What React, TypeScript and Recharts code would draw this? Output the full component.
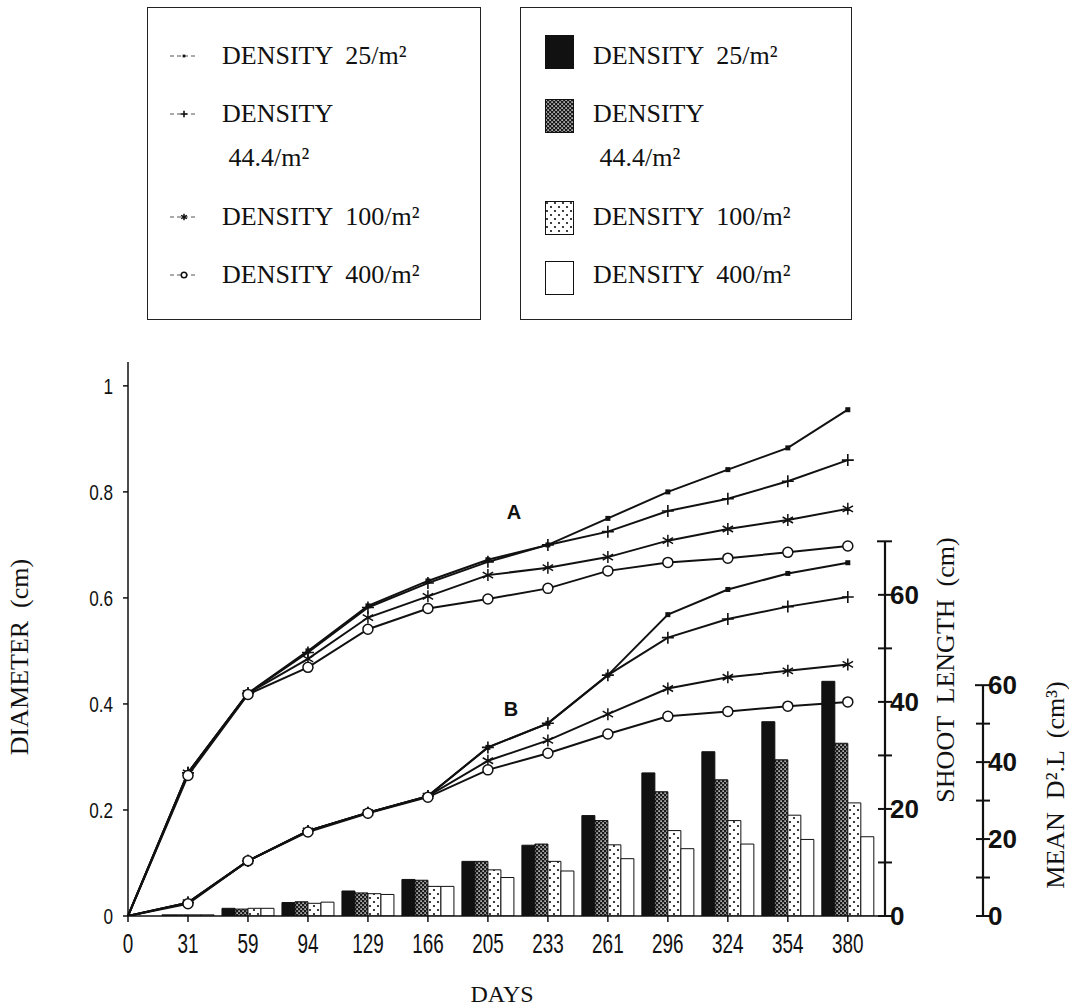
import React from 'react';
import { ComposedChart, Bar, Line, XAxis, YAxis } from 'recharts';

// categories (days) and densities
const days = ['0', '31', '59', '94', '129', '166', '205', '233', '261', '296', '324', '354', '380'];
const densities = ['25', '44.4', '100', '400'];

// A: diameter (cm)
const diam25 = [0, 0.27, 0.42, 0.5, 0.585, 0.632, 0.672, 0.7, 0.75, 0.8, 0.842, 0.883, 0.955];
const diam44 = [0, 0.27, 0.42, 0.497, 0.582, 0.628, 0.668, 0.7, 0.725, 0.764, 0.787, 0.82, 0.86];
const diam100 = [0, 0.27, 0.42, 0.485, 0.563, 0.603, 0.643, 0.657, 0.677, 0.708, 0.73, 0.747, 0.768];
const diam400 = [0, 0.265, 0.418, 0.469, 0.541, 0.58, 0.598, 0.618, 0.651, 0.667, 0.675, 0.686, 0.698];

// B: shoot length (cm)
const shoot25 = [0, 2.5, 10.3, 15.9, 19.3, 22.4, 31.5, 36, 45, 56.3, 61, 64, 66];
const shoot44 = [0, 2.5, 10.3, 15.9, 19.3, 22.4, 31.5, 36, 45, 52, 55.5, 57.8, 59.6];
const shoot100 = [0, 2.5, 10.3, 15.9, 19.3, 22.4, 29, 32.8, 37.7, 42.5, 44.6, 45.8, 47];
const shoot400 = [0, 2.3, 10.3, 15.7, 19.2, 22.2, 27.3, 30.4, 34, 37.3, 38.2, 39.2, 40];

// bars: mean D².L (cm³)
const dl25 = [0, 0.3, 2.0, 3.5, 6.5, 9.5, 14.2, 18.4, 26.1, 37.2, 42.7, 50.5, 61];
const dl44 = [0, 0.3, 1.8, 3.7, 6.0, 9.3, 14.2, 18.7, 24.8, 32.3, 35.4, 40.6, 44.9];
const dl100 = [0, 0.3, 2.0, 3.3, 5.8, 7.7, 12.0, 14.2, 18.5, 22.2, 24.8, 26.2, 29.4];
const dl400 = [0, 0.3, 2.0, 3.6, 5.6, 7.7, 10.0, 11.7, 14.9, 17.5, 18.7, 19.9, 20.6];

const diamTicks = [0, 0.2, 0.4, 0.6, 0.8, 1];
const shootTicks = [0, 10, 20, 30, 40, 50, 60, 70];
const dlTicks = [0, 10, 20, 30, 40, 50, 60];

const data = days.map((d, i) => ({
  idx: i,
  day: d,
  a25: diam25[i], a44: diam44[i], a100: diam100[i], a400: diam400[i],
  b25: shoot25[i], b44: shoot44[i], b100: shoot100[i], b400: shoot400[i],
  d25: dl25[i], d44: dl44[i], d100: dl100[i], d400: dl400[i],
}));

const PLOT_TOP = 362;
const PLOT_BOTTOM = 916;
const PLOT_H = PLOT_BOTTOM - PLOT_TOP;
const DIAM_MAX = 1.045;
const SHOOT_MAX = 103.5;
const DL_MAX = 144;

const SERIF = '"Liberation Serif", "DejaVu Serif", serif';
const SANS = '"Liberation Sans", Arial, sans-serif';

type MarkerKind = 'square' | 'plus' | 'star' | 'circle';
const markers: MarkerKind[] = ['square', 'plus', 'star', 'circle'];

function Marker({ kind, cx, cy, s = 1 }: { kind: MarkerKind; cx: number; cy: number; s?: number }) {
  if (kind === 'square') return <rect x={cx - 2.5 * s} y={cy - 2.5 * s} width={5 * s} height={5 * s} fill="#111" />;
  if (kind === 'plus')
    return <path d={`M${cx - 6 * s},${cy}H${cx + 6 * s}M${cx},${cy - 6 * s}V${cy + 6 * s}`} stroke="#111" strokeWidth={1.6} />;
  if (kind === 'star') {
    const r = 6 * s;
    const dx = r * 0.866, dy = r * 0.5;
    return (
      <path
        d={`M${cx},${cy - r}V${cy + r}M${cx - dx},${cy - dy}L${cx + dx},${cy + dy}M${cx - dx},${cy + dy}L${cx + dx},${cy - dy}`}
        stroke="#111"
        strokeWidth={1.5}
      />
    );
  }
  return <circle cx={cx} cy={cy} r={5 * s} fill="#fff" stroke="#111" strokeWidth={1.5} />;
}

const dotFor = (kind: MarkerKind) => (p: any) => (
  <g key={`${kind}-${p.index}`}>{p.cx != null && p.index > 0 ? <Marker kind={kind} cx={p.cx} cy={p.cy} /> : null}</g>
);

const XTick = ({ x, y, payload }: any) => (
  <g transform={`translate(${x},${y + 29})`}>
    <text transform="scale(0.7,1)" textAnchor="middle" fontSize={27} fontFamily={SANS} fill="#111">
      {days[payload.value]}
    </text>
  </g>
);

const DiamTick = ({ x, y, payload }: any) => (
  <g transform={`translate(${x},${y + 8})`}>
    <text transform="scale(0.78,1)" textAnchor="end" fontSize={22} fontFamily={SANS} fill="#111">
      {payload.value === 0 || payload.value === 1 ? String(payload.value) : payload.value.toFixed(1)}
    </text>
  </g>
);

// right-hand axes: crossing ticks, line only up to the top tick, labels every 20
const makeRightTick = (max: number, top: number, labelDx: number) => ({ x, y, payload }: any) => {
  const v = payload.value;
  const step = (10 / max) * PLOT_H;
  return (
    <g>
      {v > 0 ? <line x1={x} x2={x} y1={y} y2={y + step} stroke="#111" strokeWidth={2.2} /> : null}
      <line x1={x - (v === top ? 8 : 7)} x2={x + 7} y1={y} y2={y} stroke="#111" strokeWidth={2} />
      {v % 20 === 0 ? (
        <text x={x + labelDx} y={y + 9} fontSize={26} fontWeight="bold" fontFamily={SANS} fill="#111">
          {v}
        </text>
      ) : null}
    </g>
  );
};
const ShootTick = makeRightTick(SHOOT_MAX, 70, 5);
const DlTick = makeRightTick(DL_MAX, 60, 5);

const Patterns = ({ prefix }: { prefix: string }) => (
  <defs>
    <pattern id={`${prefix}-check`} width="4" height="4" patternUnits="userSpaceOnUse">
      <rect width="4" height="4" fill="#1a1a1a" />
      <rect x="0.4" y="0.4" width="1.4" height="1.4" fill="#fff" />
      <rect x="2.4" y="2.4" width="1.4" height="1.4" fill="#fff" />
    </pattern>
    <pattern id={`${prefix}-dots`} width="8" height="8" patternUnits="userSpaceOnUse">
      <rect width="8" height="8" fill="#fff" />
      <circle cx="2" cy="2" r="1.1" fill="#111" />
      <circle cx="6" cy="6" r="1.1" fill="#111" />
    </pattern>
  </defs>
);

const barFills = (prefix: string) => ['#111', `url(#${prefix}-check)`, `url(#${prefix}-dots)`, '#fff'];

const legendRows = densities.map((d) =>
  d === '44.4' ? ['DENSITY', ` ${d}/m²`] : [`DENSITY  ${d}/m²`]
);
const rowY = [[55], [113, 157], [216], [274]];
const swatchTop = [34, 98, 200, 260];

const textStyle: React.CSSProperties = {
  position: 'absolute',
  fontFamily: SERIF,
  fontSize: 26,
  lineHeight: '30px',
  whiteSpace: 'pre',
  color: '#111',
};

function LineLegend() {
  return (
    <div style={{ position: 'absolute', left: 147, top: 7, width: 332, height: 311, border: '1.5px solid #222' }}>
      {legendRows.map((lines, i) => (
        <React.Fragment key={i}>
          <svg style={{ position: 'absolute', left: 20, top: rowY[i][0] - 7 - 14 }} width={32} height={28}>
            <line x1={2} x2={30} y1={14} y2={14} stroke="#555" strokeWidth={1} strokeDasharray="4 3" />
            <Marker kind={markers[i]} cx={16} cy={14} s={0.55} />
          </svg>
          {lines.map((t, j) => (
            <div key={j} style={{ ...textStyle, left: 74, top: rowY[i][j] - 7 - 15 }}>
              {t}
            </div>
          ))}
        </React.Fragment>
      ))}
    </div>
  );
}

function BarLegend() {
  const fills = barFills('lg');
  return (
    <div style={{ position: 'absolute', left: 520, top: 7, width: 330, height: 311, border: '1.5px solid #222' }}>
      <svg width={0} height={0} style={{ position: 'absolute' }}>
        <Patterns prefix="lg" />
      </svg>
      {legendRows.map((lines, i) => (
        <React.Fragment key={i}>
          <svg style={{ position: 'absolute', left: 24, top: swatchTop[i] - 7 }} width={30} height={35}>
            <rect x={0.5} y={0.5} width={28} height={33} fill={fills[i]} stroke="#111" strokeWidth={1} />
          </svg>
          {lines.map((t, j) => (
            <div key={j} style={{ ...textStyle, left: 72, top: rowY[i][j] - 7 - 15 }}>
              {t}
            </div>
          ))}
        </React.Fragment>
      ))}
    </div>
  );
}

export default function App() {
  const fills = barFills('ch');
  const barKeys = ['d25', 'd44', 'd100', 'd400'];
  const aKeys = ['a25', 'a44', 'a100', 'a400'];
  const bKeys = ['b25', 'b44', 'b100', 'b400'];
  return (
    <div style={{ position: 'absolute', left: 0, top: 0, width: 1069, height: 1008, background: '#fff' }}>
      <LineLegend />
      <BarLegend />
      <div style={{ position: 'absolute', left: 0, top: 0 }}>
        <ComposedChart
          width={1069}
          height={1008}
          data={data}
          margin={{ top: PLOT_TOP, right: 0, bottom: 1008 - PLOT_BOTTOM - 40, left: 68 }}
          barGap={0}
          barSize={13}
        >
          <Patterns prefix="ch" />
          <XAxis
            dataKey="idx"
            type="number"
            domain={[0, 12.62]}
            ticks={days.map((_, i) => i)}
            height={40}
            tickSize={6}
            tick={<XTick />}
            stroke="#111"
            strokeWidth={1.5}
            interval={0}
          />
          <YAxis
            yAxisId="l1"
            orientation="left"
            width={60}
            domain={[0, DIAM_MAX]}
            ticks={diamTicks}
            tickSize={5}
            tickMargin={10}
            tick={<DiamTick />}
            stroke="#111"
            strokeWidth={1.5}
            allowDataOverflow
          />
          <YAxis
            yAxisId="r1"
            orientation="right"
            width={98}
            domain={[0, SHOOT_MAX]}
            ticks={shootTicks}
            tickSize={0}
            tickMargin={0}
            axisLine={false}
            tickLine={false}
            tick={<ShootTick />}
            allowDataOverflow
          />
          <YAxis
            yAxisId="r2"
            orientation="right"
            width={86}
            domain={[0, DL_MAX]}
            ticks={dlTicks}
            tickSize={0}
            tickMargin={0}
            axisLine={false}
            tickLine={false}
            tick={<DlTick />}
            allowDataOverflow
          />
          {barKeys.map((k, i) => (
            <Bar
              key={k}
              yAxisId="r2"
              dataKey={k}
              fill={fills[i]}
              stroke="#111"
              strokeWidth={1}
              isAnimationActive={false}
            />
          ))}
          {aKeys.map((k, i) => (
            <Line
              key={k}
              yAxisId="l1"
              dataKey={k}
              type="linear"
              stroke="#111"
              strokeWidth={2}
              dot={dotFor(markers[i])}
              activeDot={false}
              isAnimationActive={false}
            />
          ))}
          {bKeys.map((k, i) => (
            <Line
              key={k}
              yAxisId="r1"
              dataKey={k}
              type="linear"
              stroke="#111"
              strokeWidth={2}
              dot={dotFor(markers[i])}
              activeDot={false}
              isAnimationActive={false}
            />
          ))}
        </ComposedChart>
      </div>
      <svg
        width={1069}
        height={1008}
        style={{ position: 'absolute', left: 0, top: 0, pointerEvents: 'none' }}
        fontFamily={SERIF}
        fill="#111"
      >
        <text x={514} y={519} textAnchor="middle" fontFamily={SANS} fontWeight="bold" fontSize={20}>A</text>
        <text x={511} y={716} textAnchor="middle" fontFamily={SANS} fontWeight="bold" fontSize={20}>B</text>
        <text transform="translate(28,657) rotate(-90)" textAnchor="middle" fontSize={26} style={{ whiteSpace: 'pre' }}>
          {'DIAMETER  (cm)'}
        </text>
        <text transform="translate(954,670) rotate(-90)" textAnchor="middle" fontSize={26} style={{ whiteSpace: 'pre' }}>
          {'SHOOT  LENGTH  (cm)'}
        </text>
        <text transform="translate(1064,785) rotate(-90)" textAnchor="middle" fontSize={26} style={{ whiteSpace: 'pre' }}>
          {'MEAN  D².L  (cm³)'}
        </text>
        <text x={502} y={1002} textAnchor="middle" fontSize={24}>DAYS</text>
      </svg>
    </div>
  );
}
